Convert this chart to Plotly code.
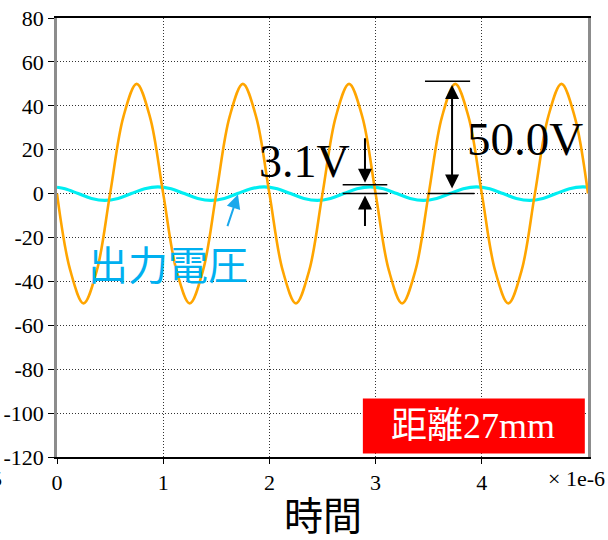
import plotly.graph_objects as go

# ---- data (time in units of 1e-6 s, voltage in V) ----
t_in = [0.0, 0.125, 0.25, 0.375, 0.5, 0.625, 0.75, 0.875,
        1.0, 1.125, 1.25, 1.375, 1.5, 1.625, 1.75, 1.875,
        2.0, 2.125, 2.25, 2.375, 2.5, 2.625, 2.75, 2.875,
        3.0, 3.125, 3.25, 3.375, 3.5, 3.625, 3.75, 3.875,
        4.0, 4.125, 4.25, 4.375, 4.5, 4.625, 4.75, 4.875, 5.0]
v_in = [0, -35, -50, -35, 0, 35, 50, 35,
        0, -35, -50, -35, 0, 35, 50, 35,
        0, -35, -50, -35, 0, 35, 50, 35,
        0, -35, -50, -35, 0, 35, 50, 35,
        0, -35, -50, -35, 0, 35, 50, 35, 0]

t_out = [0.0, 0.075, 0.2, 0.325, 0.45, 0.575, 0.7, 0.825, 0.95,
         1.075, 1.2, 1.325, 1.45, 1.575, 1.7, 1.825, 1.95,
         2.075, 2.2, 2.325, 2.45, 2.575, 2.7, 2.825, 2.95,
         3.075, 3.2, 3.325, 3.45, 3.575, 3.7, 3.825, 3.95,
         4.075, 4.2, 4.325, 4.45, 4.575, 4.7, 4.825, 4.95, 5.0]
v_out = [2.9, 2.2, 0, -2.2, -3.1, -2.2, 0, 2.2, 3.1,
         2.2, 0, -2.2, -3.1, -2.2, 0, 2.2, 3.1,
         2.2, 0, -2.2, -3.1, -2.2, 0, 2.2, 3.1,
         2.2, 0, -2.2, -3.1, -2.2, 0, 2.2, 3.1,
         2.2, 0, -2.2, -3.1, -2.2, 0, 2.2, 3.1, 2.9]

x_ticks = [0, 1, 2, 3, 4]
x_tick_text = ["0", "1", "2", "3", "4"]
y_ticks = [80, 60, 40, 20, 0, -20, -40, -60, -80, -100, -120]
y_tick_text = ["80", "60", "40", "20", "0", "-20", "-40", "-60", "-80", "-100", "-120"]

SERIF = "Liberation Serif"
CJK = "Noto Sans CJK JP"

fig = go.Figure()
fig.add_trace(go.Scatter(x=t_out, y=v_out, mode="lines", line_shape="spline",
                         line=dict(color="#00EEF2", width=3.2), showlegend=False))
fig.add_trace(go.Scatter(x=t_in, y=v_in, mode="lines", line_shape="spline",
                         line=dict(color="#FFA500", width=2.6), showlegend=False))

fig.update_layout(
    width=608, height=540,
    margin=dict(l=57, r=20, t=18, b=83, autoexpand=False),
    paper_bgcolor="white", plot_bgcolor="white",
    font=dict(family=SERIF, size=22, color="black"),
)
fig.update_xaxes(range=[0, 5], tickvals=x_ticks, ticktext=x_tick_text, automargin=False,
                 showgrid=True, gridcolor="#333333", gridwidth=1, griddash="1px,2px",
                 zeroline=False, showline=True, linecolor="black", linewidth=1.5,
                 mirror=True, ticks="outside", ticklen=5, tickcolor="black",
                 tickfont=dict(family=SERIF, size=22, color="black"))
fig.update_yaxes(range=[-120, 80], tickvals=y_ticks, ticktext=y_tick_text, automargin=False,
                 showgrid=True, gridcolor="#333333", gridwidth=1, griddash="1px,2px",
                 zeroline=False, showline=True, linecolor="#8c8c8c", linewidth=2.5,
                 mirror=True, ticks="outside", ticklen=6, tickcolor="black",
                 tickfont=dict(family=SERIF, size=22, color="black"))

shapes = [
    # 3.1V reference lines
    dict(type="line", xref="x", yref="y", x0=2.69, x1=3.11, y0=4.0, y1=4.0,
         line=dict(color="black", width=1.5)),
    dict(type="line", xref="x", yref="y", x0=2.69, x1=3.11, y0=0, y1=0,
         line=dict(color="black", width=1.5)),
    # 50.0V reference lines
    dict(type="line", xref="x", yref="y", x0=3.465, x1=3.89, y0=51.2, y1=51.2,
         line=dict(color="black", width=1.5)),
    dict(type="line", xref="x", yref="y", x0=3.49, x1=3.93, y0=0, y1=0,
         line=dict(color="black", width=1.5)),
    # red box
    dict(type="rect", xref="x", yref="y", x0=2.88, x1=4.97, y0=-118.4, y1=-93.3,
         fillcolor="#FF0000", line=dict(width=0), layer="above"),
]
fig.update_layout(shapes=shapes)

ann = [
    dict(x=2.335, y=14.6, xref="x", yref="y", text="3.1V", showarrow=False,
         font=dict(family=SERIF, size=46, color="black")),
    dict(x=2.90, y=5.0, xref="x", yref="y", ax=0, ay=-46, text="", showarrow=True,
         arrowhead=2, arrowwidth=2, arrowsize=1.4, arrowcolor="black"),
    dict(x=2.90, y=-0.9, xref="x", yref="y", ax=0, ay=32, text="", showarrow=True,
         arrowhead=2, arrowwidth=2, arrowsize=1.4, arrowcolor="black"),
    dict(x=3.72, y=2.3, xref="x", yref="y", ax=0, ay=-105, text="", showarrow=True,
         arrowhead=2, startarrowhead=2, arrowside="end+start", arrowwidth=2,
         arrowsize=1.4, startarrowsize=1.4, arrowcolor="black"),
    dict(x=4.407, y=24.7, xref="x", yref="y", text="50.0V", showarrow=False,
         font=dict(family=SERIF, size=47, color="black")),
    dict(x=1.045, y=-31.5, xref="x", yref="y", text="出力電圧", showarrow=False,
         font=dict(family=CJK, size=40, color="#00B0F0")),
    dict(x=1.704, y=-0.46, xref="x", yref="y", ax=-11, ay=33, text="", showarrow=True,
         arrowhead=2, arrowwidth=2, arrowsize=1.4, arrowcolor="#1AA8EC"),
    dict(x=3.92, y=-106.0, xref="x", yref="y", text="距離27mm", showarrow=False,
         font=dict(family=SERIF + ", " + CJK, size=36, color="white")),
    dict(x=(323 - 57) / 531, y=(457 - 513) / 439, xref="paper", yref="paper",
         text="時間", showarrow=False, xanchor="center", yanchor="middle",
         font=dict(family=CJK, size=39, color="black")),
    dict(x=(607 - 57) / 531, y=(457 - 478) / 439, xref="paper", yref="paper",
         text="× 1e-6", showarrow=False, xanchor="right", yanchor="middle",
         font=dict(family=SERIF, size=22, color="black")),
    dict(x=(4 - 57) / 531, y=(457 - 478) / 439, xref="paper", yref="paper",
         text="5", showarrow=False, xanchor="right", yanchor="middle",
         font=dict(family=SERIF, size=22, color="black")),
]
fig.update_layout(annotations=ann)

fig.write_html("out.html")
